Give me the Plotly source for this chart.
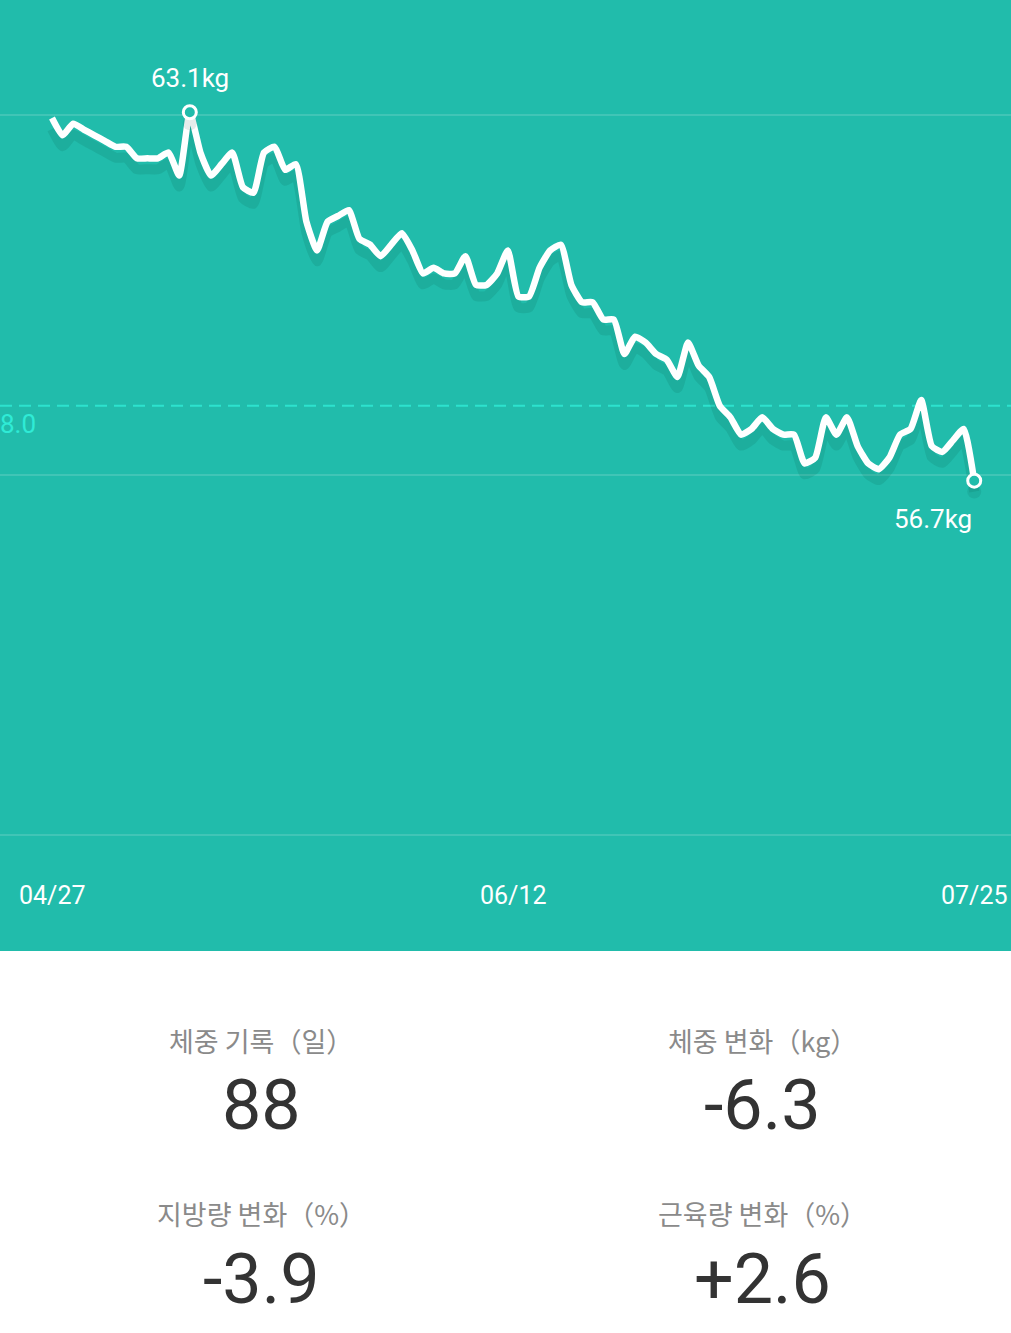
import plotly.graph_objects as go

# ---------------- data ----------------
weights = [63.0, 62.7, 62.9, 62.8, 62.7, 62.6, 62.5, 62.5, 62.3, 62.3,
           62.3, 62.4, 62.0, 63.1, 62.4, 62.0, 62.2, 62.4, 61.8, 61.7,
           62.4, 62.5, 62.1, 62.2, 61.2, 60.7, 61.2, 61.3, 61.4, 60.9,
           60.8, 60.6, 60.8, 61.0, 60.7, 60.3, 60.4, 60.3, 60.3, 60.6,
           60.1, 60.1, 60.3, 60.7, 59.9, 59.9, 60.4, 60.7, 60.8, 60.1,
           59.8, 59.8, 59.5, 59.5, 58.9, 59.2, 59.1, 58.9, 58.8, 58.5,
           59.1, 58.7, 58.5, 58.0, 57.8, 57.5, 57.6, 57.8, 57.6, 57.5,
           57.5, 57.0, 57.1, 57.8, 57.5, 57.8, 57.3, 57.0, 56.9, 57.1,
           57.5, 57.6, 58.1, 57.3, 57.2, 57.4, 57.6, 56.7]
goal_weight = 58.0
goal_label = "8.0"          # as visible at the left edge of the reference
date_labels = ["04/27", "06/12", "07/25"]
stat_labels = ["체중 기록（일）", "체중 변화（kg）", "지방량 변화（%）", "근육량 변화（%）"]
stat_values = ["88", "-6.3", "-3.9", "+2.6"]

# ---------------- styling ----------------
W, H = 1011, 1333
TEAL = "#21BCAB"
CHART_BOTTOM_PX = 951
Y_RANGE = [48.53, 65.05]
X_RANGE = [-4.906, 90.47]
SHADOW_OFFSET = 0.19

xs = list(range(len(weights)))
imax = max(xs, key=lambda i: weights[i])
ilast = xs[-1]

fig = go.Figure()

# line shadow
fig.add_trace(go.Scatter(
    x=xs, y=[w - SHADOW_OFFSET for w in weights], mode="lines",
    line=dict(color="rgba(0,70,60,0.12)", width=10, shape="spline", smoothing=0.5),
    hoverinfo="skip", showlegend=False))
# main line
fig.add_trace(go.Scatter(
    x=xs, y=weights, mode="lines",
    line=dict(color="white", width=6.5, shape="spline", smoothing=0.5),
    showlegend=False))
# marker shadows
fig.add_trace(go.Scatter(
    x=[imax, ilast], y=[weights[imax] - SHADOW_OFFSET, weights[ilast] - SHADOW_OFFSET],
    mode="markers",
    marker=dict(size=14, color="rgba(0,70,60,0.10)", line=dict(width=0)),
    hoverinfo="skip", showlegend=False))
# hollow markers at max and last
fig.add_trace(go.Scatter(
    x=[imax, ilast], y=[weights[imax], weights[ilast]], mode="markers",
    marker=dict(size=13, color=TEAL, line=dict(color="white", width=3)),
    showlegend=False))

ydom0 = 1 - CHART_BOTTOM_PX / H

def py(p):
    return 1 - p / H

shapes = []
for gp in [115, 475, 835]:
    shapes.append(dict(type="line", xref="paper", yref="paper", x0=0, x1=1,
                       y0=py(gp), y1=py(gp), layer="below",
                       line=dict(color="rgba(255,255,255,0.14)", width=2)))
shapes.append(dict(type="line", xref="paper", yref="y", x0=0, x1=1,
                   y0=goal_weight, y1=goal_weight, layer="below",
                   line=dict(color="#2DE2CE", width=2, dash="12px,7px")))

annotations = []

def add_text(text, x, y, xref, yref, size, color, family, xanchor="center",
             yanchor="middle", xshift=0, yshift=0):
    annotations.append(dict(text=text, x=x, y=y, xref=xref, yref=yref,
                            showarrow=False, xanchor=xanchor, yanchor=yanchor,
                            xshift=xshift, yshift=yshift,
                            font=dict(size=size, color=color, family=family)))

LAT = "Roboto, 'Noto Sans', sans-serif"
add_text(f"{weights[imax]:.1f}kg", imax, weights[imax], "x", "y", 26, "white", LAT,
         yshift=34)
add_text(f"{weights[ilast]:.1f}kg", ilast, weights[ilast], "x", "y", 26, "white", LAT,
         xanchor="right", xshift=0, yshift=-38)
add_text(goal_label, 0, goal_weight, "paper", "y", 26, "#2FEBD6", LAT,
         xanchor="left", xshift=-2, yshift=-18)
date_pos = [xs[0], (xs[0] + xs[-1]) / 2, xs[-1]]
for lab, xp in zip(date_labels, date_pos):
    add_text(lab, xp, py(895), "x", "paper", 25, "white", LAT)

col_x = [261 / W, 762 / W]
label_y = [1040, 1213]
value_y = [1105, 1279]
for k, (lab, val) in enumerate(zip(stat_labels, stat_values)):
    r, c = divmod(k, 2)
    add_text(lab, col_x[c], py(label_y[r]), "paper", "paper", 27, "#8A8A8A",
             "'Noto Sans CJK KR', sans-serif")
    add_text(val, col_x[c], py(value_y[r]), "paper", "paper", 70, "#333333", LAT)

fig.update_layout(
    width=W, height=H, autosize=False,
    margin=dict(l=0, r=0, t=0, b=0, pad=0),
    paper_bgcolor="white", plot_bgcolor=TEAL,
    xaxis=dict(range=X_RANGE, visible=False, fixedrange=True),
    yaxis=dict(range=Y_RANGE, domain=[ydom0, 1], visible=False, fixedrange=True),
    shapes=shapes, annotations=annotations, showlegend=False,
)

fig.write_html("out.html", config={"displayModeBar": False},
               post_script="document.body.style.margin='0';document.body.style.overflow='hidden';")
